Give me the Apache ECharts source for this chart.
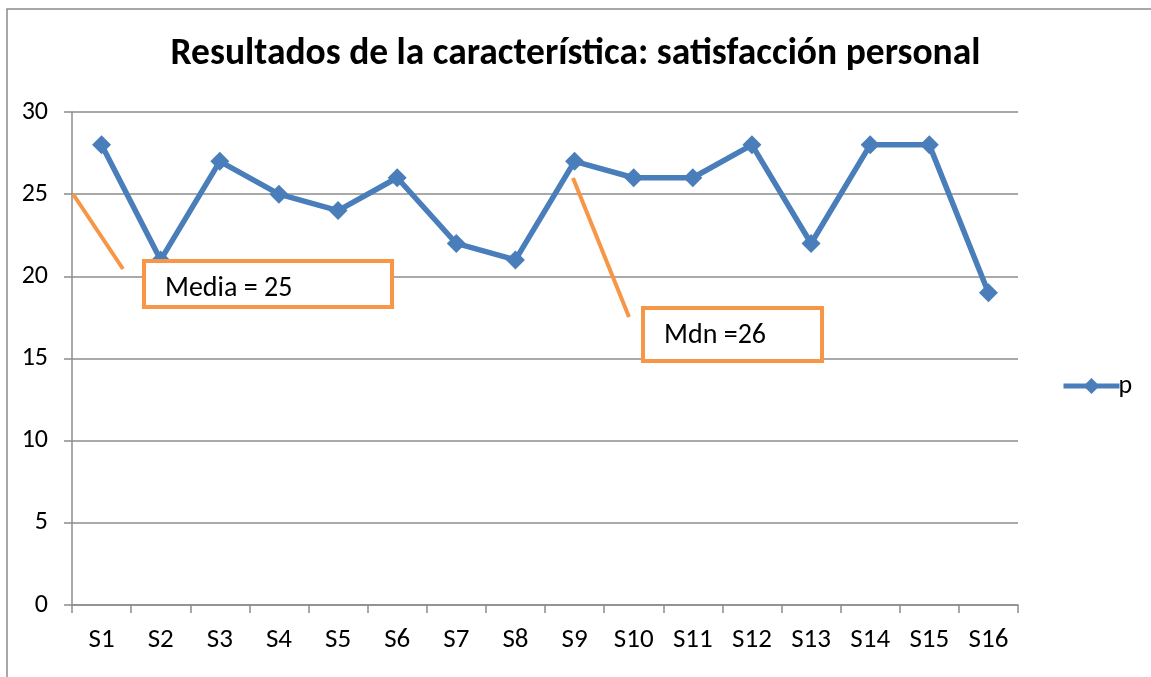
<!DOCTYPE html>
<html>
<head>
<meta charset="utf-8">
<script src="https://cdn.jsdelivr.net/npm/echarts@6/dist/echarts.min.js"></script>
<style>
  html, body { margin: 0; padding: 0; background: #fff; }
  #chart { width: 1151px; height: 677px; }
</style>
</head>
<body>
<div id="chart"></div>
<script>
const categories = ['S1', 'S2', 'S3', 'S4', 'S5', 'S6', 'S7', 'S8', 'S9', 'S10', 'S11', 'S12', 'S13', 'S14', 'S15', 'S16'];
const pValues = [28, 21, 27, 25, 24, 26, 22, 21, 27, 26, 26, 28, 22, 28, 28, 19];
const yTicks = { min: 0, max: 30, interval: 5 };
const notes = ['Media = 25', 'Mdn =26'];

const FONT = 'Carlito, Lato, "Open Sans", sans-serif';
const BLUE = '#4a7ebb';
const ORANGE = '#f79646';
const GRID = '#8c8c8c';

const chart = echarts.init(document.getElementById('chart'), null, { renderer: 'canvas' });

chart.setOption({
  animation: false,
  backgroundColor: '#fff',
  textStyle: { fontFamily: FONT },
  title: {
    text: 'Resultados de la característica: satisfacción personal',
    left: 'center',
    top: 31,
    textStyle: { fontFamily: FONT, fontSize: 37.5, fontWeight: 'bold', color: '#000' }
  },
  legend: {
    data: ['p'],
    orient: 'vertical',
    left: 1056,
    top: 368,
    itemWidth: 56,
    itemHeight: 20,
    itemGap: 4,
    lineStyle: { width: 5 },
    textStyle: { fontFamily: FONT, fontSize: 26, color: '#000', padding: [0, 0, 0, -6] }
  },
  grid: { left: 72, right: 133, top: 112, bottom: 72, containLabel: false },
  xAxis: {
    type: 'category',
    data: categories,
    boundaryGap: true,
    axisLine: { lineStyle: { color: GRID, width: 1.5 } },
    axisTick: { show: true, length: 8, alignWithLabel: false, lineStyle: { color: GRID, width: 1.5 } },
    axisLabel: { color: '#000', fontSize: 27, fontFamily: FONT, margin: 22 },
    splitLine: { show: false }
  },
  yAxis: {
    type: 'value',
    min: yTicks.min,
    max: yTicks.max,
    interval: yTicks.interval,
    axisLine: { show: true, lineStyle: { color: GRID, width: 1.5 } },
    axisTick: { show: true, length: 8, lineStyle: { color: GRID, width: 1.5 } },
    axisLabel: { color: '#000', fontSize: 26, fontFamily: FONT, margin: 24 },
    splitLine: { show: true, lineStyle: { color: GRID, width: 1.5 } }
  },
  series: [{
    name: 'p',
    type: 'line',
    data: pValues,
    symbol: 'diamond',
    symbolSize: 19,
    showAllSymbol: true,
    lineStyle: { color: BLUE, width: 5.5 },
    itemStyle: { color: BLUE },
    z: 5
  }],
  graphic: [
    {
      type: 'rect',
      shape: { x: 7, y: 9, width: 1160, height: 690 },
      style: { fill: 'none', stroke: '#8c8c8c', lineWidth: 1.5 },
      silent: true, z: -1
    },
    {
      type: 'line',
      shape: { x1: 73, y1: 194, x2: 123, y2: 269 },
      style: { stroke: ORANGE, lineWidth: 4 }, z: 10
    },
    {
      type: 'rect',
      shape: { x: 144, y: 261, width: 248, height: 46 },
      style: { fill: '#fff', stroke: ORANGE, lineWidth: 4 }, z: 10
    },
    {
      type: 'text',
      left: 165, top: 275,
      style: { text: notes[0], fill: '#000', font: '28px ' + FONT }, z: 11
    },
    {
      type: 'line',
      shape: { x1: 573, y1: 178, x2: 629, y2: 317 },
      style: { stroke: ORANGE, lineWidth: 4 }, z: 10
    },
    {
      type: 'rect',
      shape: { x: 643, y: 308, width: 179, height: 53 },
      style: { fill: '#fff', stroke: ORANGE, lineWidth: 4 }, z: 10
    },
    {
      type: 'text',
      left: 664, top: 322,
      style: { text: notes[1], fill: '#000', font: '28px ' + FONT }, z: 11
    }
  ]
});
</script>
</body>
</html>
